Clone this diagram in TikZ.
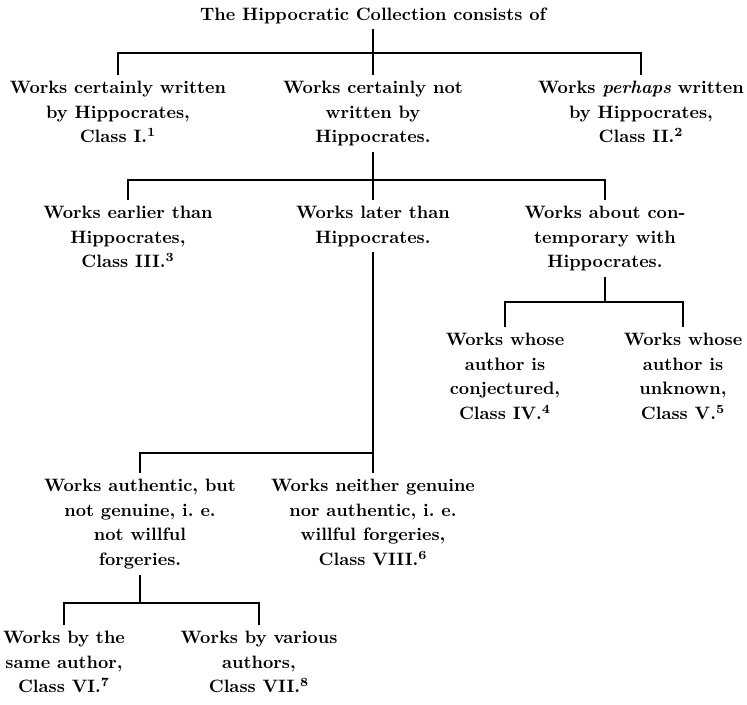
\documentclass[tikz,border=0pt]{standalone}
\usepackage{tikz}
\usetikzlibrary{positioning}

\begin{document}
\begin{tikzpicture}[
  x=0.02cm, y=-0.02cm,
  entry/.style={align=center, anchor=north, inner xsep=2pt, inner ysep=3pt,
    font=\fontsize{10.2}{14.2}\selectfont\bfseries},
  link/.style={line width=0.9pt}
]
\useasboundingbox (0,0) rectangle (747,704);

\node[entry] (root) at (373,2) {The Hippocratic Collection consists of};

\node[entry] (certain) at (118,75) {Works certainly written\\by Hippocrates,\\Class I.\textsuperscript{1}};
\node[entry] (notby) at (373,75) {Works certainly not\\written by\\Hippocrates.};
\node[entry] (perhaps) at (641,75) {Works \textit{perhaps} written\\by Hippocrates,\\Class II.\textsuperscript{2}};

\node[entry] (earlier) at (128,200) {Works earlier than\\Hippocrates,\\Class III.\textsuperscript{3}};
\node[entry] (later) at (373,200) {Works later than\\Hippocrates.};
\node[entry] (contemp) at (605,200) {Works about con-\\temporary with\\Hippocrates.};

\node[entry] (conject) at (505,327) {Works whose\\author is\\conjectured,\\Class IV.\textsuperscript{4}};
\node[entry] (unknown) at (683,327) {Works whose\\author is\\unknown,\\Class V.\textsuperscript{5}};

\node[entry] (authentic) at (140,473) {Works authentic, but\\not genuine, i.~e.\\not willful\\forgeries.};
\node[entry] (forgery) at (373,473) {Works neither genuine\\nor authentic, i.~e.\\willful forgeries,\\Class VIII.\textsuperscript{6}};

\node[entry] (same) at (64,625) {Works by the\\same author,\\Class VI.\textsuperscript{7}};
\node[entry] (various) at (259,625) {Works by various\\authors,\\Class VII.\textsuperscript{8}};

% junctions
\coordinate (j1) at (373,53);
\coordinate (j2) at (373,180);
\coordinate (j3) at (373,453);
\coordinate (j4) at (605,302);
\coordinate (j5) at (140,603);

\draw[link] (root.south) -- (j1);
\draw[link] (certain.north) |- (j1) -| (perhaps.north);
\draw[link] (j1) -- (notby.north);

\draw[link] (notby.south) -- (j2);
\draw[link] (earlier.north) |- (j2) -| (contemp.north);
\draw[link] (j2) -- (later.north);

\draw[link] (later.south) -- (j3);
\draw[link] (authentic.north) |- (j3) -- (forgery.north);

\draw[link] (contemp.south) -- (j4);
\draw[link] (conject.north) |- (j4) -| (unknown.north);

\draw[link] (authentic.south) -- (j5);
\draw[link] (same.north) |- (j5) -| (various.north);
\end{tikzpicture}
\end{document}
